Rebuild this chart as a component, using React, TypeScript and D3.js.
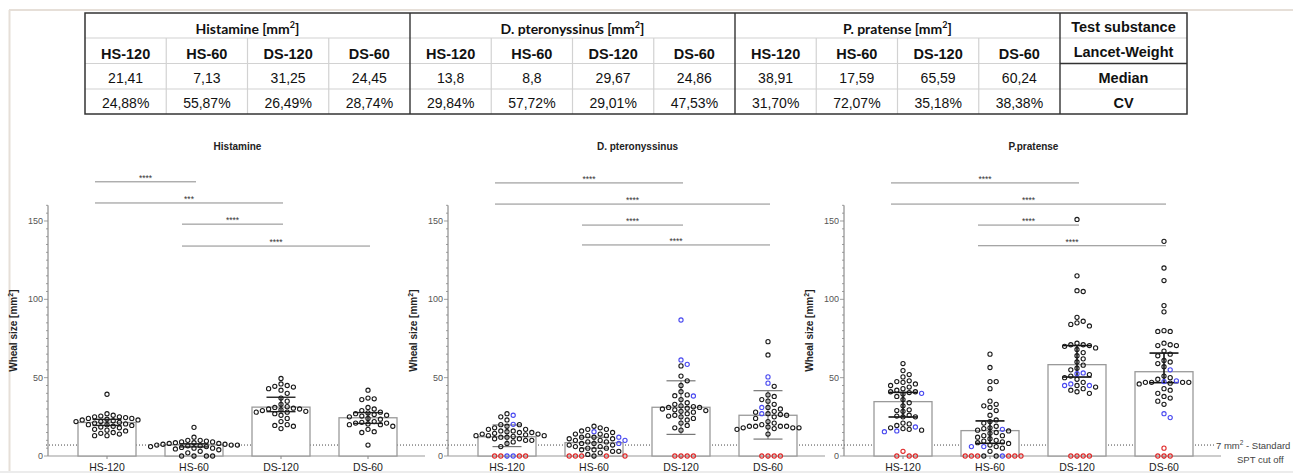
import React from 'react';
import * as d3 from 'd3';

// ---- table data ----
const tableGroups = ['Histamine', 'D. pteronyssinus', 'P. pratense'];
const subCols = ['HS-120', 'HS-60', 'DS-120', 'DS-60'];
const medians = ['21,41', '7,13', '31,25', '24,45', '13,8', '8,8', '29,67', '24,86', '38,91', '17,59', '65,59', '60,24'];
const cvs = ['24,88%', '55,87%', '26,49%', '28,74%', '29,84%', '57,72%', '29,01%', '47,53%', '31,70%', '72,07%', '35,18%', '38,38%'];
const rowLabels = ['Test substance', 'Lancet-Weight', 'Median', 'CV'];

// ---- chart data ----
const categories = ['HS-120', 'HS-60', 'DS-120', 'DS-60'];
const yTicks = [0, 50, 100, 150];

// Histamine
const histHS120 = [39.4, 27, 26, 25.5, 25, 25, 24.5, 24, 24, 23.5, 23, 23, 22.5, 22, 22, 21.5, 21, 20.5, 20, 20, 19.5, 19, 18.5, 18, 17, 16.5, 16, 15, 14.5, 14, 13, 13];
const histHS60 = [18.3, 12, 10, 10, 9.5, 9, 9, 8.5, 8.5, 8, 8, 7.5, 7.5, 7, 7, 7, 6.5, 6.5, 6, 6, 5.5, 5, 5, 4.5, 4, 3, 2, 0, 0, 0, 0];
const histDS120 = [49.5, 46, 45, 44.5, 44, 43, 42, 40, 37, 35, 33, 31.5, 31, 30.5, 30, 30, 29.5, 29, 28.5, 28, 28, 27, 26, 24, 22, 20, 19.5, 19, 17.5];
const histDS60 = [42, 37, 36.5, 36, 31, 30, 29, 28, 27.5, 27, 26.5, 26, 25.5, 25, 24, 23.5, 22, 21.5, 21, 21, 20.5, 20, 20, 19, 17, 15.5, 15, 7];
const histBars = [21.4, 7.1, 31.2, 24.4];
const histErrLow = [19.5, 5.8, 28.3, 20.8];
const histErrHigh = [23.4, 7.8, 37.5, 27.7];

// D. pteronyssinus
const dpHS120 = [27, 25, 23, 20, 20, 19, 18, 17, 17, 16, 16, 15.5, 15, 15, 14.5, 14, 14, 13.5, 13, 13, 13, 12.5, 12, 12, 11, 11, 10, 10, 9, 8, 6];
const dpHS120Blue = [26, 20.2, 0, 0];
const dpHS120Red = [0, 0, 0, 0];
const dpHS60 = [19, 18, 17, 17, 16, 15, 14, 14, 13, 13, 12, 12, 11, 11, 10, 10, 9, 9, 8, 8, 7, 7, 6, 6, 5, 5, 4, 4, 3, 3, 2, 1, 0];
const dpHS60Blue = [15.5, 12, 10, 8];
const dpHS60Red = [0, 0, 0, 0, 0];
const dpDS120 = [57.5, 51, 48, 45, 41, 39, 38.5, 36, 34, 33, 32, 31.5, 31, 31, 30.5, 30, 29.5, 29, 28.5, 28, 27, 26, 25.5, 25, 24, 23, 21, 19.5, 18, 16.5];
const dpDS120Blue = [86.8, 61.3, 58.5, 38.3];
const dpDS120Red = [0, 0, 0, 0];
const dpDS60 = [73, 64.5, 44.5, 39, 38, 36, 35, 33, 31, 30, 28.5, 28, 27, 26.5, 26, 25, 24, 22, 21, 20, 19, 19, 19, 19, 18.5, 18, 18, 18, 17.5, 17, 14];
const dpDS60Blue = [50.5, 46.5, 31, 27];
const dpDS60Red = [0, 0, 0, 0];
const dpBars = [12.3, 8.5, 31.1, 26];
const dpErrLow = [6, 5, 13.8, 10.8];
const dpErrHigh = [19.8, 12, 48, 41.7];

// P. pratense
const ppHS120 = [59, 54.5, 52, 50.5, 48, 47.5, 47, 46, 45, 44, 43, 42, 41, 41, 40.5, 39.5, 38, 36, 34, 32, 29.5, 29, 28.5, 26, 25.5, 25, 25, 21, 20.5, 19.5, 18, 17.5, 17, 16.5];
const ppHS120Blue = [40, 18.5, 16, 15.5];
const ppHS120Red = [3, 0, 0, 0];
const ppHS60 = [65, 56.5, 47.5, 47.5, 43, 35, 33, 32, 31, 29, 26, 23, 22, 21, 19, 18, 17.5, 16.5, 16, 15, 14.5, 13, 13, 12, 11, 10, 9.5, 9, 8.5, 8, 7, 6, 5, 3, 0, 0];
const ppHS60Blue = [17, 6, 6, 0];
const ppHS60Red = [0, 0, 0, 0, 0, 0];
const ppDS120 = [151, 115, 105.5, 105, 88.5, 86, 85, 84, 83, 72, 71, 71, 70.5, 70, 69, 68, 66, 64, 62, 60, 58, 56, 55, 52, 51, 50, 49, 47, 45, 44, 43, 42, 41, 40];
const ppDS120Blue = [53, 52.5, 46, 45, 45];
const ppDS120Red = [0, 0, 0, 0];
const ppDS60 = [137, 120, 112, 96, 92, 80, 79.5, 79.5, 72, 71, 70.5, 70.5, 67, 65, 64, 61, 60, 59, 57, 51, 50, 49, 47, 47, 47, 47, 46.5, 46, 43, 42, 40, 38, 37, 35, 33];
const ppDS60Blue = [55, 48, 47.5, 27, 24.5];
const ppDS60Red = [5, 0, 0, 0];
const ppBars = [34.7, 16.2, 58.3, 53.8];
const ppErrLow = [24.9, 8.1, 50.4, 46.8];
const ppErrHigh = [40.6, 22.4, 70.5, 65.7];

const cutoff = 7;

// comparisons: [from, to, level, stars]
const histSig: [number, number, number, string][] = [[0, 1, 175, '****'], [0, 2, 161.5, '***'], [1, 2, 148, '****'], [1, 3, 134, '****']];
const dpSig: [number, number, number, string][] = [[0, 2, 174.3, '****'], [0, 3, 160.8, '****'], [1, 2, 147.4, '****'], [1, 3, 134.7, '****']];
const ppSig: [number, number, number, string][] = [[0, 2, 174.3, '****'], [0, 3, 160.8, '****'], [1, 2, 147.4, '****'], [1, 3, 134.2, '****']];

const BLACK = '#1a1a1a';
const BLUE = '#4848f0';
const RED = '#e02828';

const mk = (black: number[], blue: number[] = [], red: number[] = []) => [
  ...black.map(v => ({ v, c: BLACK })),
  ...blue.map(v => ({ v, c: BLUE })),
  ...red.map(v => ({ v, c: RED })),
];

const panels = [
  {
    title: 'Histamine', x0: 48, errColor: '#222', errW: 1.4,
    groups: [mk(histHS120), mk(histHS60), mk(histDS120), mk(histDS60)],
    bars: histBars, lo: histErrLow, hi: histErrHigh, sig: histSig,
  },
  {
    title: 'D. pteronyssinus', x0: 448, errColor: '#777', errW: 1.2,
    groups: [mk(dpHS120, dpHS120Blue, dpHS120Red), mk(dpHS60, dpHS60Blue, dpHS60Red), mk(dpDS120, dpDS120Blue, dpDS120Red), mk(dpDS60, dpDS60Blue, dpDS60Red)],
    bars: dpBars, lo: dpErrLow, hi: dpErrHigh, sig: dpSig,
  },
  {
    title: 'P.pratense', x0: 844, errColor: '#111', errW: 1.6,
    groups: [mk(ppHS120, ppHS120Blue, ppHS120Red), mk(ppHS60, ppHS60Blue, ppHS60Red), mk(ppDS120, ppDS120Blue, ppDS120Red), mk(ppDS60, ppDS60Blue, ppDS60Red)],
    bars: ppBars, lo: ppErrLow, hi: ppErrHigh, sig: ppSig,
  },
];

const y = d3.scaleLinear().domain([0, 160]).range([456, 456 - 160 * 1.5667]);

// simple deterministic beeswarm (GraphPad-like rows)
function swarm(pts: { v: number; c: string }[], cx: number) {
  const sorted = [...pts].sort((a, b) => b.v - a.v);
  const placed: { x: number; y: number; c: string }[] = [];
  const step = 6.2;
  for (const p of sorted) {
    const py = y(p.v);
    for (let k = 0; k < 60; k++) {
      const off = k === 0 ? 0 : (k % 2 ? Math.ceil(k / 2) : -Math.ceil(k / 2));
      const px = cx + off * step;
      if (placed.every(q => Math.hypot(q.x - px, q.y - py) >= 5.3)) {
        placed.push({ x: px, y: py, c: p.c });
        break;
      }
    }
  }
  return placed;
}

const sans = 'Liberation Sans, Arial, sans-serif';

function Table() {
  const left = 85, top = 13, right = 1187;
  const col = d3.scaleLinear().domain([0, 12]).range([85, 1060]);
  const rows = [13, 38, 63.5, 89, 114];
  const labelX = (1060 + right) / 2;
  const cols = d3.range(12);
  return (
    <g>
      {[rows[1], rows[2], rows[3]].map((ry, i) => (
        <line key={'h' + i} x1={left} x2={1060} y1={ry} y2={ry} stroke="#d2d2d2" strokeWidth={1.2} />
      ))}
      {cols.filter(i => i % 4 !== 0).map(i => (
        <line key={'v' + i} x1={col(i)} x2={col(i)} y1={rows[1]} y2={rows[4]} stroke="#d2d2d2" strokeWidth={1.2} />
      ))}
      <line x1={1060} x2={right} y1={rows[1]} y2={rows[1]} stroke="#d2d2d2" strokeWidth={1.2} />
      <line x1={1060} x2={right} y1={rows[3]} y2={rows[3]} stroke="#d2d2d2" strokeWidth={1.2} />
      <line x1={1060} x2={right} y1={rows[2]} y2={rows[2]} stroke="#333" strokeWidth={1.4} />
      {[4, 8, 12].map(i => (
        <line key={'g' + i} x1={col(i)} x2={col(i)} y1={top} y2={rows[4]} stroke="#333" strokeWidth={1.4} />
      ))}
      <rect x={left} y={top} width={right - left} height={rows[4] - top} fill="none" stroke="#333" strokeWidth={1.5} />
      {tableGroups.map((g, i) => (
        <text key={g} x={(col(i * 4) + col(i * 4 + 4)) / 2} y={34} textAnchor="middle"
          fontFamily="Lato, sans-serif" fontWeight="bold" fontSize={14} fill="#111">
          {g} [mm<tspan dy={-6} fontSize={9}>2</tspan><tspan dy={6}>]</tspan>
        </text>
      ))}
      {cols.map(i => (
        <g key={'c' + i} fontFamily={sans} fill="#111" textAnchor="middle">
          <text x={(col(i) + col(i + 1)) / 2} y={59} fontWeight="bold" fontSize={14.5}>{subCols[i % 4]}</text>
          <text x={(col(i) + col(i + 1)) / 2} y={83} fontSize={14}>{medians[i]}</text>
          <text x={(col(i) + col(i + 1)) / 2} y={108} fontSize={14}>{cvs[i]}</text>
        </g>
      ))}
      {rowLabels.map((t, i) => (
        <text key={t} x={labelX} y={[31.5, 57, 82.5, 107.5][i]} textAnchor="middle" fontFamily={sans}
          fontWeight="bold" fontSize={14.5} fill="#111">{t}</text>
      ))}
    </g>
  );
}

function Panel({ p }: { p: typeof panels[number] }) {
  const x = d3.scalePoint<string>().domain(categories).range([p.x0 + 59, p.x0 + 320]);
  const axisEnd = p.x0 + 377;
  const minor = d3.range(0, 161, 5);
  const xs = categories.map(c => x(c) as number);
  return (
    <g>
      <line x1={p.x0} x2={p.x0} y1={y(0)} y2={y(160)} stroke="#777" strokeWidth={1} />
      <line x1={p.x0} x2={axisEnd} y1={y(0)} y2={y(0)} stroke="#999" strokeWidth={1.2} />
      {minor.map(t => (
        <line key={t} x1={p.x0 - (t % 50 === 0 ? 4 : 2)} x2={p.x0} y1={y(t)} y2={y(t)} stroke="#888" strokeWidth={0.8} />
      ))}
      {yTicks.map(t => (
        <text key={t} x={p.x0 - 5} y={y(t) + 3} textAnchor="end" fontFamily={sans} fontSize={9} fill="#555">{t}</text>
      ))}
      <text transform={`translate(${p.x0 - 31},${y(80)}) rotate(-90)`} textAnchor="middle"
        fontFamily={sans} fontWeight="bold" fontSize={10} fill="#222">
        Wheal size [mm<tspan dy={-4} fontSize={7}>2</tspan><tspan dy={4}>]</tspan>
      </text>
      <text x={(xs[0] + xs[3]) / 2} y={150} textAnchor="middle" fontFamily={sans} fontWeight="bold" fontSize={10} fill="#222">
        {p.title}
      </text>
      {p.sig.map(([a, b, lvl, s], i) => (
        <g key={i}>
          <line x1={xs[a] - 12} x2={xs[b] + 2} y1={y(lvl)} y2={y(lvl)} stroke="#8a8a8a" strokeWidth={1} />
          <text x={(xs[a] - 12 + xs[b] + 2) / 2} y={y(lvl) - 1} textAnchor="middle" fontFamily={sans} fontSize={8.5} fill="#333">{s}</text>
        </g>
      ))}
      {categories.map((c, i) => (
        <g key={c}>
          <rect x={xs[i] - 29} y={y(p.bars[i])} width={58} height={y(0) - y(p.bars[i])} fill="#fff" stroke="#9a9a9a" strokeWidth={1.3} />
          <line x1={xs[i]} x2={xs[i]} y1={y(0)} y2={y(0) + 3} stroke="#888" />
          <text x={xs[i]} y={471} textAnchor="middle" fontFamily={sans} fontSize={10.5} fill="#222">{c}</text>
        </g>
      ))}
      {categories.map((c, i) => (
        <g key={'e' + c} stroke={p.errColor} strokeWidth={p.errW}>
          <line x1={xs[i]} x2={xs[i]} y1={y(p.lo[i])} y2={y(p.hi[i])} />
          <line x1={xs[i] - 14.5} x2={xs[i] + 14.5} y1={y(p.lo[i])} y2={y(p.lo[i])} />
          <line x1={xs[i] - 14.5} x2={xs[i] + 14.5} y1={y(p.hi[i])} y2={y(p.hi[i])} />
        </g>
      ))}
      {p.groups.map((g, i) => swarm(g, xs[i]).map((d, j) => (
        <circle key={i + '-' + j} cx={d.x} cy={d.y} r={2.1} fill="none" stroke={d.c} strokeWidth={1.1} />
      )))}
    </g>
  );
}

export default function App() {
  const W = 1293, H = 473;
  return (
    <svg width={W} height={H} style={{ position: 'absolute', left: 0, top: 0, background: '#fff' }}>
      <line x1={9} x2={W} y1={10} y2={10} stroke="#e6dfd8" strokeWidth={2} />
      <line x1={9.5} x2={9.5} y1={10} y2={H} stroke="#e6dfd8" strokeWidth={2} />
      <rect x={0} y={471} width={W} height={2} fill="#ececec" />
      <Table />
      <line x1={46} x2={1216} y1={y(cutoff)} y2={y(cutoff)} stroke="#444" strokeWidth={1} strokeDasharray="1,2" />
      {panels.map(p => <Panel key={p.title} p={p} />)}
      <text x={1216} y={449} fontFamily={sans} fontSize={9.5} fill="#444">
        7 mm<tspan dy={-4} fontSize={6.5}>2</tspan><tspan dy={4}> - Standard</tspan>
      </text>
      <text x={1237} y={463} fontFamily={sans} fontSize={9.5} fill="#444">SPT cut off</text>
    </svg>
  );
}
